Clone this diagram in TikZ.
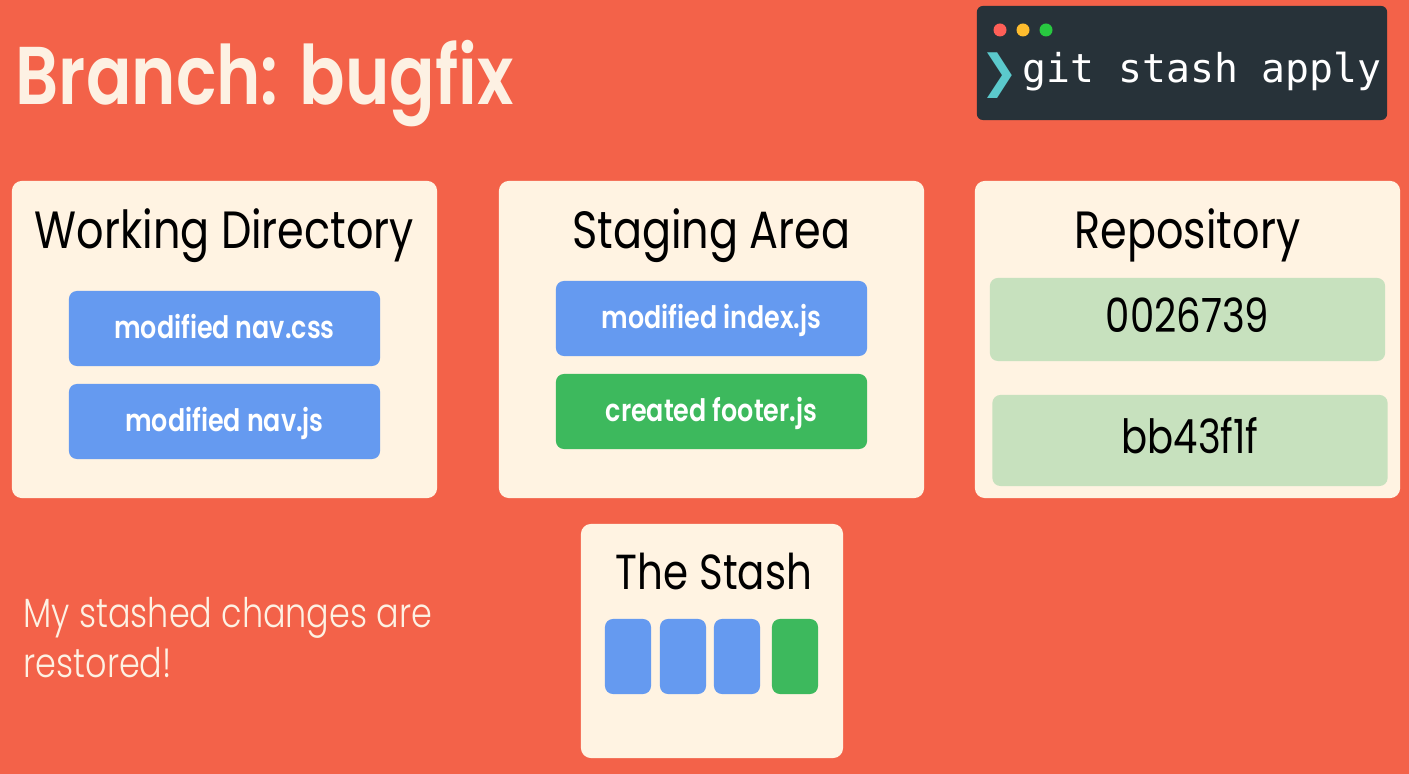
\documentclass[tikz,border=0pt]{standalone}
\usepackage{fontspec}
\setmainfont{Poppins}[FakeStretch=0.82,
  FontFace={mb}{n}{Font=Poppins Medium, FakeStretch=0.82},
  FontFace={sb}{n}{Font=Poppins SemiBold, FakeStretch=0.82},
  FontFace={l}{n}{Font=Poppins Light, FakeStretch=0.82}]
\setmonofont{DejaVu Sans Mono}
\newfontfamily\dingfont{DejaVu Sans}
\usepackage{xcolor}
\usetikzlibrary{positioning}

\definecolor{bgred}{HTML}{F36249}
\definecolor{cream}{HTML}{FFF3E2}
\definecolor{titlecream}{HTML}{FDF1E3}
\definecolor{fileblue}{HTML}{659AF0}
\definecolor{filegreen}{HTML}{3DB95D}
\definecolor{commitgreen}{HTML}{C7E1BE}
\definecolor{termgray}{HTML}{273239}
\definecolor{promptteal}{HTML}{5BC9CC}
\definecolor{dotred}{HTML}{FF5F57}
\definecolor{dotyellow}{HTML}{FEBC2E}
\definecolor{dotgreen}{HTML}{28C840}

\begin{document}
\begin{tikzpicture}[x=0.01cm, y=-0.01cm,
  panel/.style={rectangle, fill=cream, rounded corners=0.1cm, inner sep=0pt},
  heading/.style={inner sep=0pt, text=black, font=\fontsize{14.9}{17}\selectfont},
  filebox/.style={rectangle, fill=fileblue, rounded corners=0.08cm, inner sep=0pt,
    minimum width=3.11cm, minimum height=0.75cm, text=white,
    text height=1ex, text depth=0pt, font=\fontseries{sb}\fontsize{8.8}{11}\selectfont},
  commitbox/.style={rectangle, fill=commitgreen, rounded corners=0.08cm, inner sep=0pt,
    minimum width=3.95cm, text=black, text height=1.3ex, text depth=0pt,
    font=\fontsize{13.4}{15}\selectfont},
  stashcard/.style={rectangle, rounded corners=0.08cm, inner sep=0pt,
    minimum width=0.46cm, minimum height=0.75cm},
  termdot/.style={circle, inner sep=0pt, minimum size=0.13cm}
]
  \useasboundingbox (0,0) rectangle (1409,774);
  \fill[bgred] (0,0) rectangle (1409,774);

  % title
  \node[anchor=base west, inner sep=0pt, text=titlecream,
    font=\fontseries{sb}\fontsize{23.3}{27}\selectfont] (title) at (15,105) {Branch: bugfix};

  % terminal
  \node[rectangle, fill=termgray, rounded corners=0.06cm, inner sep=0pt,
    minimum width=4.10cm, minimum height=1.14cm] (term) at (1182,63) {};
  \node[termdot, fill=dotred]    (dot1) at (1000,30) {};
  \node[termdot, fill=dotyellow] (dot2) at (1023,30) {};
  \node[termdot, fill=dotgreen]  (dot3) at (1046,30) {};
  \node[inner sep=0pt, text=promptteal, font=\dingfont\fontsize{13}{15}\selectfont]
    (prompt) at (1000,76) {❯};
  \node[anchor=base west, inner sep=0pt, text=white, font=\ttfamily\fontsize{11.3}{13}\selectfont]
    (cmd) at (1022,83) {git stash apply};

  % working directory
  \node[panel, minimum width=4.25cm, minimum height=3.17cm] (wd) at (224.5,339.5) {};
  \node[heading, anchor=base] (wdtitle) at (224.5,249) {Working Directory};
  \node[filebox] (navcss) at (224.5,328.5) {modified nav.css};
  \node[filebox] (navjs)  at (224.5,421.5) {modified nav.js};

  % staging area
  \node[panel, minimum width=4.25cm, minimum height=3.17cm] (sa) at (711.5,339.5) {};
  \node[heading, anchor=base] (satitle) at (711.5,249) {Staging Area};
  \node[filebox] (indexjs)  at (711.5,318.5) {modified index.js};
  \node[filebox, fill=filegreen] (footerjs) at (711.5,411.5) {created footer.js};

  % repository
  \node[panel, minimum width=4.25cm, minimum height=3.17cm] (repo) at (1187.5,339.5) {};
  \node[heading, anchor=base] (repotitle) at (1187.5,249) {Repository};
  \node[commitbox, minimum height=0.83cm] (c1) at (1187.5,319.5) {0026739};
  \node[commitbox, minimum height=0.91cm] (c2) at (1190,440.5) {bb43f1f};

  % the stash
  \node[panel, minimum width=2.62cm, minimum height=2.34cm] (stash) at (712,641) {};
  \node[heading, anchor=base, font=\fontsize{14}{16}\selectfont] (stashtitle) at (714,590) {The Stash};
  \node[stashcard, fill=fileblue]  (s1) at (628,656.5) {};
  \node[stashcard, fill=fileblue]  (s2) at (683,656.5) {};
  \node[stashcard, fill=fileblue]  (s3) at (737,656.5) {};
  \node[stashcard, fill=filegreen] (s4) at (795,656.5) {};

  % note
  \node[anchor=north west, inner sep=0pt, align=left, text=titlecream,
    font=\fontseries{l}\fontsize{11.6}{14.2}\selectfont] (note) at (23,597)
    {My stashed changes are\\restored!};
\end{tikzpicture}
\end{document}
